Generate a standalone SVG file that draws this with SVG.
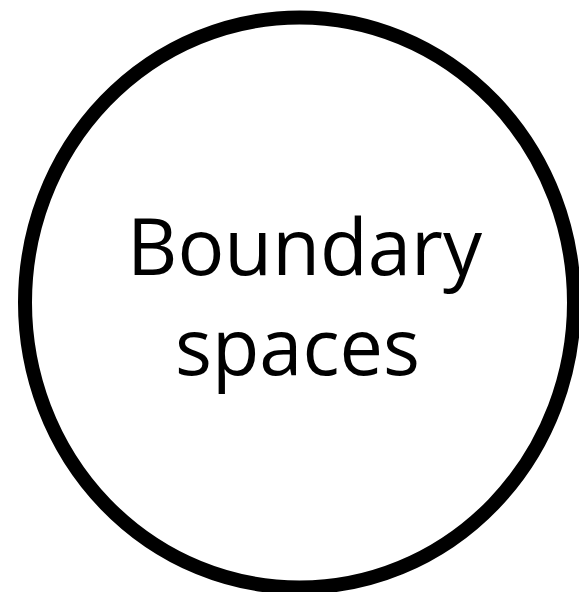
<svg xmlns="http://www.w3.org/2000/svg" width="579" height="592" viewBox="0 0 579 592">
<style>
.lbl{font-family:"Open Sans","Liberation Sans",sans-serif;font-size:78px;fill:#000}
</style>
<rect width="579" height="592" fill="#fff"/>
<g id="node-boundary">
<ellipse cx="299.5" cy="302.5" rx="274.5" ry="285" fill="#fff" stroke="#000" stroke-width="14"/>
<text class="lbl" x="304.5" y="275" text-anchor="middle" textLength="355" lengthAdjust="spacingAndGlyphs">Boundary</text>
<text class="lbl" x="297.5" y="375" text-anchor="middle" textLength="245" lengthAdjust="spacingAndGlyphs">spaces</text>
</g>
<g id="connectors"/>
</svg>
